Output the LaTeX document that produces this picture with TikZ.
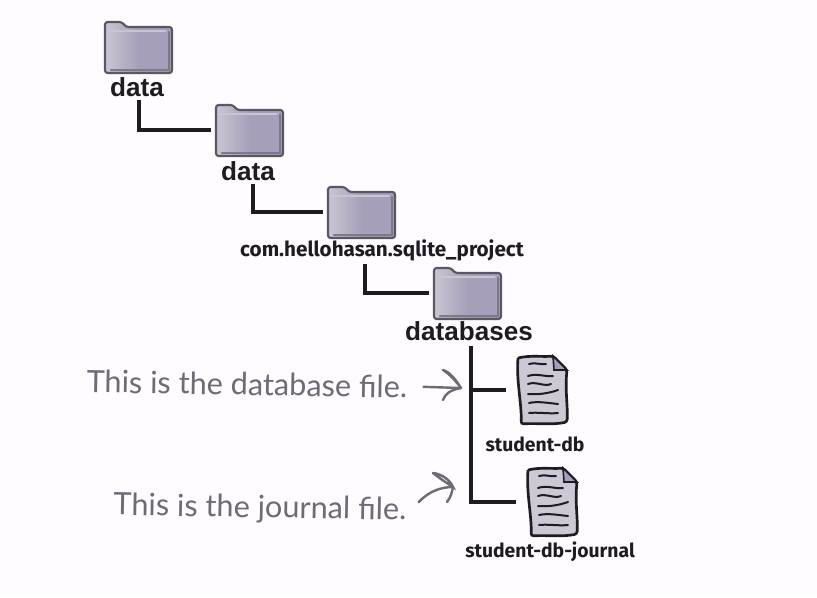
\documentclass[tikz,border=0pt]{standalone}
\usepackage{xcolor}
\usepackage{fontspec}
\usepackage{tikz}
\setmainfont{Liberation Sans}
\newfontfamily\labelfont{Fira Sans}
\newfontfamily\notefont{Lato}
\definecolor{pagebg}{HTML}{FEFCFE}
\definecolor{dirfill}{HTML}{A79FB9}
\definecolor{dirlight}{HTML}{CAC5D2}
\definecolor{dirdark}{HTML}{7F7889}
\definecolor{dirline}{HTML}{5A5662}
\definecolor{docfill}{HTML}{CDC9D4}
\definecolor{treeline}{HTML}{1E1B22}
\definecolor{notegray}{HTML}{6F6A76}

\tikzset{
    dirbox/.style={minimum width=58.5pt, minimum height=39pt, inner sep=0},
    docbox/.style={minimum width=54pt, minimum height=54pt, inner sep=0},
    dirname/.style={font=\fontsize{19.6pt}{20pt}\selectfont\bfseries, text=treeline, inner sep=1pt},
    filename/.style={font=\labelfont\fontsize{14.5pt}{16pt}\selectfont\bfseries, text=treeline, inner sep=1pt},
    notetext/.style={font=\notefont\fontsize{23pt}{25pt}\selectfont, text=notegray, inner sep=1pt},
    treelink/.style={draw=treeline, line width=2.3pt, line join=miter},
    notelink/.style={draw=notegray, line width=1.8pt, line cap=round},
    dirshape/.pic={
        \draw[dirline, line width=1.6pt, rounded corners=2pt, left color=dirlight, right color=dirfill, middle color=dirfill]
            (-34,26) -- (-34,-25) -- (-17,-25) -- (-13,-20) -- (33,-20) -- (33,26) -- cycle;
        \draw[dirdark, line width=1.6pt, line cap=round] (30,-15) -- (30,23) -- (-28,23);
        \draw[dirlight, line width=1pt, line cap=round] (-30,-16) -- (27,-16);
    },
    docshape/.pic={
        \draw[treeline, line width=2pt, fill=docfill, rounded corners=2pt]
            (-24,-32) .. controls (-12,-35) and (0,-33) .. (11,-34) -- (25,-20)
            .. controls (23,0) and (26,18) .. (25,32)
            .. controls (10,35) and (-6,33) .. (-21,34)
            .. controls (-20,15) and (-26,-10) .. (-24,-32);
        \draw[treeline, line width=1.2pt, fill=dirfill] (11,-34) -- (12,-20) -- (25,-20) -- cycle;
        \draw[treeline, line width=1.5pt, line cap=round]
            (-13,-26) .. controls (-7,-28) and (-2,-25) .. (4,-26)
            (-14,-14) .. controls (-5,-17) and (3,-13) .. (11,-14)
            (-14,-6) .. controls (-6,-9) and (2,-3) .. (9,-6)
            (-14,4) .. controls (-4,5) and (8,3) .. (16,0)
            (-13,13) .. controls (-4,11) and (6,13) .. (16,14)
            (-13,23) .. controls (-4,22) and (6,24) .. (16,23);
    }
}

\begin{document}
\begin{tikzpicture}[x=0.75pt, y=-0.75pt]
        \fill[pagebg] (0,0) rectangle (817,597);
        \useasboundingbox (0,0) rectangle (817,597);

        % folders
        \node[dirbox] (dirA) at (139,47) {};
        \node[dirbox] (dirB) at (250,130) {};
        \node[dirbox] (dirC) at (362,212) {};
        \node[dirbox] (dirD) at (468,293) {};
        \pic at (dirA) {dirshape};
        \pic at (dirB) {dirshape};
        \pic at (dirC) {dirshape};
        \pic at (dirD) {dirshape};

        \node[dirname] (nameA) at (137,87) {data};
        \node[dirname] (nameB) at (248,171) {data};
        \node[filename, font=\labelfont\fontsize{15.5pt}{16pt}\selectfont\bfseries] (nameC) at (382,250) {com.hellohasan.sqlite\_project};
        \node[dirname] (nameD) at (469,331) {databases};

        % files
        \node[docbox] (docA) at (542,390) {};
        \node[docbox] (docB) at (552,502) {};
        \pic at (docA) {docshape};
        \pic at (docB) {docshape};

        \node[filename] (fileA) at (535,444) {student-db};
        \node[filename] (fileB) at (550,552) {student-db-journal};

        % tree lines
        \draw[treelink] ([xshift=1.5pt,yshift=-1.5pt]nameA.south) |- (dirB.west);
        \draw[treelink] ([xshift=3.75pt,yshift=-1.5pt]nameB.south) |- (dirC.west);
        \draw[treelink] ([xshift=-12.75pt,yshift=-1.5pt]nameC.south) |- (dirD.west);
        \draw[treelink] ([xshift=1.5pt,yshift=-3pt]nameD.south) |- (docB.west);
        \coordinate (joinA) at ([xshift=1.5pt]nameD.south |- docA.west);
        \draw[treelink] (joinA) -- (docA.west);

        % notes
        \node[notetext, rotate=-1] (noteA) at (247,384) {This is the database file.};
        \node[notetext, rotate=-1] (noteB) at (260,509) {This is the journal file.};

        \coordinate (tipA) at (461,388);
        \coordinate (tipB) at (453,487);
        \draw[notelink] ([xshift=11pt]noteA.east) -- (tipA);
        \draw[notelink] (443,370) .. controls (450,372) and (456,380) .. (tipA) .. controls (452,376) and (446,372) .. (443,370);
        \draw[notelink] (443,400) .. controls (445,394) and (450,390) .. (tipA);
        \draw[notelink] ([xshift=8pt,yshift=7pt]noteB.east) .. controls (428,492) and (440,487) .. (tipB);
        \draw[notelink] (433,473) .. controls (442,474) and (450,480) .. (tipB) .. controls (445,482) and (438,477) .. (433,473);
        \draw[notelink] (447,502) .. controls (451,497) and (452,492) .. (tipB);
    \end{tikzpicture}
\end{document}
